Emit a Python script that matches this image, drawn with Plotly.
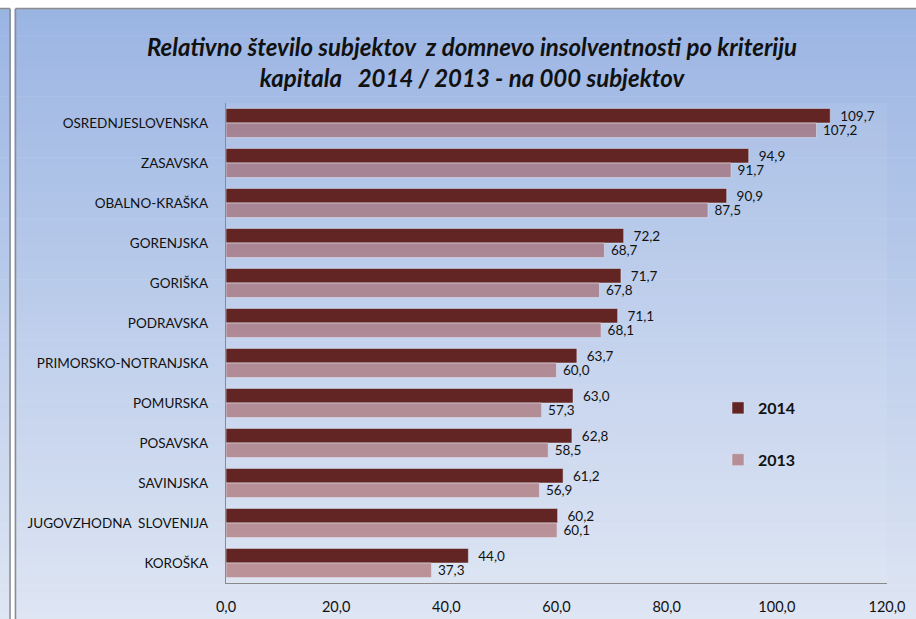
import plotly.graph_objects as go

regions = ["OSREDNJESLOVENSKA", "ZASAVSKA", "OBALNO-KRAŠKA", "GORENJSKA", "GORIŠKA",
           "PODRAVSKA", "PRIMORSKO-NOTRANJSKA", "POMURSKA", "POSAVSKA", "SAVINJSKA",
           "JUGOVZHODNA  SLOVENIJA", "KOROŠKA"]
values_2014 = [109.7, 94.9, 90.9, 72.2, 71.7, 71.1, 63.7, 63.0, 62.8, 61.2, 60.2, 44.0]
values_2013 = [107.2, 91.7, 87.5, 68.7, 67.8, 68.1, 60.0, 57.3, 58.5, 56.9, 60.1, 37.3]
x_ticks = [0, 20, 40, 60, 80, 100, 120]

W, H = 916, 619
ML, MR, MT, MB = 226, 29, 103, 36
PW, PH = W - ML - MR, H - MT - MB

def px_x(p):
    return (p - ML) / PW

def px_y(p):
    return (H - MB - p) / PH

FONT = "Lato, 'Open Sans', sans-serif"

fig = go.Figure()
fig.add_trace(go.Bar(
    y=regions, x=values_2014, name="<b>2014</b>", orientation="h",
    marker=dict(color="#632424"), legendgroup="a",
    texttemplate="  %{x:.1f}", textposition="outside", cliponaxis=False,
    textfont=dict(size=13.5, color="#111"), constraintext="none",
))
fig.add_trace(go.Bar(
    y=regions, x=values_2013, name="<b>2013</b>", orientation="h",
    marker=dict(color="rgba(156,74,72,0.53)"), legendgroup="b",
    texttemplate=" %{x:.1f}", textposition="outside", cliponaxis=False,
    textfont=dict(size=13.5, color="#111"), constraintext="none",
))

# background gradient strips
shapes = []
top_c = (155, 181, 227)
bot_c = (222, 229, 243)
N = 70
y0, y1 = 9, H
for i in range(N):
    a = y0 + (y1 - y0) * i / N
    b = y0 + (y1 - y0) * (i + 1) / N + 0.6
    t = i / (N - 1)
    c = tuple(round(top_c[k] + (bot_c[k] - top_c[k]) * t) for k in range(3))
    shapes.append(dict(type="rect", xref="paper", yref="paper", layer="below",
                       x0=px_x(0), x1=px_x(W), y0=px_y(b), y1=px_y(a),
                       line=dict(width=0), fillcolor="rgb(%d,%d,%d)" % c))
# slight plot-area tint
shapes.append(dict(type="rect", xref="paper", yref="paper", layer="below",
                   x0=0, x1=1, y0=0, y1=1, line=dict(width=0),
                   fillcolor="rgba(255,255,255,0.07)"))
# white gap and frame lines
shapes.append(dict(type="rect", xref="paper", yref="paper", layer="below",
                   x0=px_x(11), x1=px_x(14.5), y0=px_y(H), y1=px_y(0),
                   line=dict(width=0), fillcolor="white"))
for xx in (10, 15.5):
    shapes.append(dict(type="line", xref="paper", yref="paper", layer="below",
                       x0=px_x(xx), x1=px_x(xx), y0=px_y(H), y1=px_y(8.5),
                       line=dict(color="#8c8c8c", width=1.5)))
shapes.append(dict(type="line", xref="paper", yref="paper", layer="below",
                   x0=px_x(0), x1=px_x(10), y0=px_y(8.5), y1=px_y(8.5),
                   line=dict(color="#8c8c8c", width=1.5)))
shapes.append(dict(type="line", xref="paper", yref="paper", layer="below",
                   x0=px_x(15.5), x1=px_x(W), y0=px_y(8.5), y1=px_y(8.5),
                   line=dict(color="#8c8c8c", width=1.5)))

fig.update_layout(
    width=W, height=H,
    margin=dict(l=ML, r=MR, t=MT, b=MB, autoexpand=False),
    paper_bgcolor="white", plot_bgcolor="rgba(0,0,0,0)",
    separators=", ",
    barmode="group", bargap=0.27, bargroupgap=0,
    font=dict(family=FONT, size=13, color="#111"),
    title=dict(
        text="<b><i>Relativno število subjektov  z domnevo insolventnosti po kriteriju<br>kapitala   2014 / 2013 - na 000 subjektov</i></b>",
        x=px_x(472), xanchor="center", y=1 - 56 / H, yanchor="middle",
        xref="paper", yref="container",
        font=dict(family=FONT, size=24, color="#111"),
    ),
    xaxis=dict(range=[0, 120], tickvals=x_ticks, tickformat=".1f",
               showgrid=False, zeroline=False, showline=True,
               linecolor="#8a8a8a", linewidth=1.2, automargin=False,
               ticks="outside", ticklen=10, tickcolor="rgba(0,0,0,0)",
               tickfont=dict(size=14.5)),
    yaxis=dict(autorange="reversed", showgrid=False, showline=True,
               linecolor="#8a8a8a", linewidth=1.2, automargin=False,
               ticks="outside", ticklen=14, tickcolor="rgba(0,0,0,0)",
               tickfont=dict(size=13.5)),
    legend=dict(x=px_x(718), y=px_y(391), xanchor="left", yanchor="top",
                bgcolor="rgba(0,0,0,0)", tracegroupgap=28, traceorder="grouped",
                font=dict(size=16, color="#111", family=FONT),
                itemclick=False),
    showlegend=True,
    shapes=shapes,
)

fig.write_html("out.html", config={"displayModeBar": False},
               post_script="document.body.style.margin='0';")
